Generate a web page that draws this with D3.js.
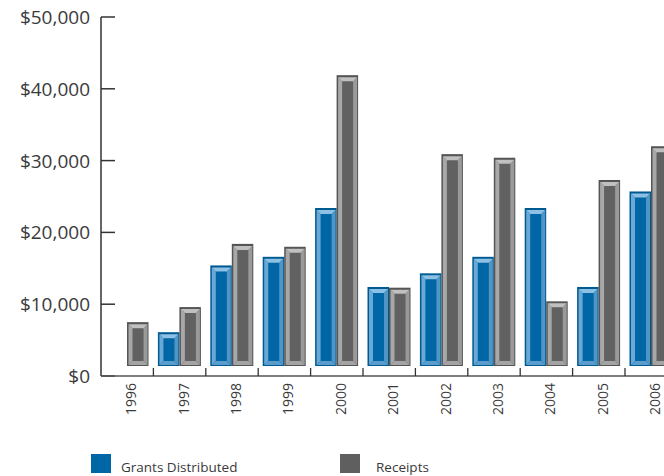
<!DOCTYPE html>
<html>
<head>
<meta charset="utf-8">
<script src="https://cdn.jsdelivr.net/npm/d3@7"></script>
<style>
  body { margin: 0; background: #fff; }
  text { font-family: "Open Sans", sans-serif; fill: #3a3a3a; }
</style>
</head>
<body>
<div id="chart"></div>
<script>
// Chart data
const years = ["1996", "1997", "1998", "1999", "2000", "2001", "2002", "2003", "2004", "2005", "2006"];
const grants = [null, 6100, 15400, 16600, 23400, 12400, 14300, 16600, 23400, 12400, 25700];
const receipts = [7500, 9600, 18400, 18000, 41900, 12300, 30900, 30400, 10400, 27300, 32000];
const yTicks = [0, 10000, 20000, 30000, 40000, 50000];
const seriesNames = ["Grants Distributed", "Receipts"];

const width = 664;
const height = 476;

const svg = d3.select("#chart")
  .append("svg")
  .attr("width", width)
  .attr("height", height);

// Scales
const x = d3.scaleBand()
  .domain(years)
  .range([101, 101 + 52.4 * years.length]);

const xSub = d3.scaleBand()
  .domain(["g", "r"])
  .range([4.5, 47.5]);

const y = d3.scaleLinear()
  .domain([0, 50000])
  .range([376, 17]);

// Bar styles per series
const styles = {
  g: { edge: "#005a92", face: "#0066a6", left: "#6aa8d6", right: "#4f95c6", top: "#8cc0e4", bottom: "#5a9dcc" },
  r: { edge: "#555555", face: "#616161", left: "#a8a8a8", right: "#9a9a9a", top: "#c0c0c0", bottom: "#a4a4a4" }
};

const floor = 10; // bars sit slightly above the axis line

function drawBar(g, x0, w, yt, yb, s) {
  const x1 = x0 + w;
  const b = 4, bt = 6, bb = 5;
  g.append("rect")
    .attr("x", x0).attr("y", yt)
    .attr("width", w).attr("height", yb - yt)
    .attr("fill", s.edge);
  g.append("rect")
    .attr("x", x0 + 1 + b).attr("y", yt + bt)
    .attr("width", w - 2 - 2 * b).attr("height", yb - bb - yt - bt)
    .attr("fill", s.face);
  const poly = (pts, fill) => g.append("polygon")
    .attr("points", pts.map(p => p.join(",")).join(" "))
    .attr("fill", fill);
  poly([[x0 + 1.5, yt + 2], [x0 + 1.5 + b, yt + bt], [x0 + 1.5 + b, yb - bb], [x0 + 1.5, yb - 1]], s.left);
  poly([[x1 - 1, yt + 2], [x1 - 1 - b, yt + bt], [x1 - 1 - b, yb - bb], [x1 - 1, yb - 1]], s.right);
  poly([[x0 + 1.5, yt + 2], [x1 - 1, yt + 2], [x1 - 1 - b, yt + bt], [x0 + 1.5 + b, yt + bt]], s.top);
  poly([[x0 + 1.5, yb - 1], [x1 - 1, yb - 1], [x1 - 1 - b, yb - bb], [x0 + 1.5 + b, yb - bb]], s.bottom);
}

// Bars
const bars = svg.append("g");
years.forEach((yr, i) => {
  [["g", grants[i]], ["r", receipts[i]]].forEach(([key, v]) => {
    if (v == null) return;
    drawBar(bars, x(yr) + xSub(key), xSub.bandwidth(), y(v), y(0) - floor, styles[key]);
  });
});

// Y axis
const yAxis = svg.append("g");
yAxis.append("line")
  .attr("x1", 101).attr("x2", 101)
  .attr("y1", y(50000)).attr("y2", y(0))
  .attr("stroke", "#333").attr("stroke-width", 1.5);
yAxis.selectAll(".ytick")
  .data(yTicks)
  .enter()
  .append("line")
  .attr("x1", 101).attr("x2", 115)
  .attr("y1", d => y(d)).attr("y2", d => y(d))
  .attr("stroke", "#333").attr("stroke-width", 1.5);
yAxis.selectAll(".ylabel")
  .data(yTicks)
  .enter()
  .append("text")
  .attr("x", 90)
  .attr("y", d => y(d) + 7)
  .attr("text-anchor", "end")
  .style("font-size", "19px")
  .text(d => "$" + d3.format(",")(d));

// X axis
const xAxis = svg.append("g");
xAxis.append("line")
  .attr("x1", 101).attr("x2", width)
  .attr("y1", y(0)).attr("y2", y(0))
  .attr("stroke", "#555").attr("stroke-width", 1.5);
xAxis.selectAll(".xtick")
  .data(years.slice(1))
  .enter()
  .append("line")
  .attr("x1", d => x(d)).attr("x2", d => x(d))
  .attr("y1", y(0) - 8).attr("y2", y(0))
  .attr("stroke", "#333").attr("stroke-width", 1.3);
xAxis.selectAll(".xlabel")
  .data(years)
  .enter()
  .append("text")
  .attr("transform", d => `translate(${x(d) + x.bandwidth() / 2 + 9},${y(0) + 7}) rotate(-90)`)
  .attr("text-anchor", "end")
  .style("font-size", "14px")
  .text(d => d);

// Legend
const legend = svg.append("g");
const legendX = [91, 340];
const legendTextX = [121, 376];
seriesNames.forEach((name, i) => {
  legend.append("rect")
    .attr("x", legendX[i]).attr("y", 454)
    .attr("width", 20).attr("height", 19)
    .attr("fill", i === 0 ? "#0066a6" : "#5f5f5f");
  legend.append("text")
    .attr("x", legendTextX[i]).attr("y", 472)
    .style("font-size", "13.5px")
    .text(name);
});
</script>
</body>
</html>
